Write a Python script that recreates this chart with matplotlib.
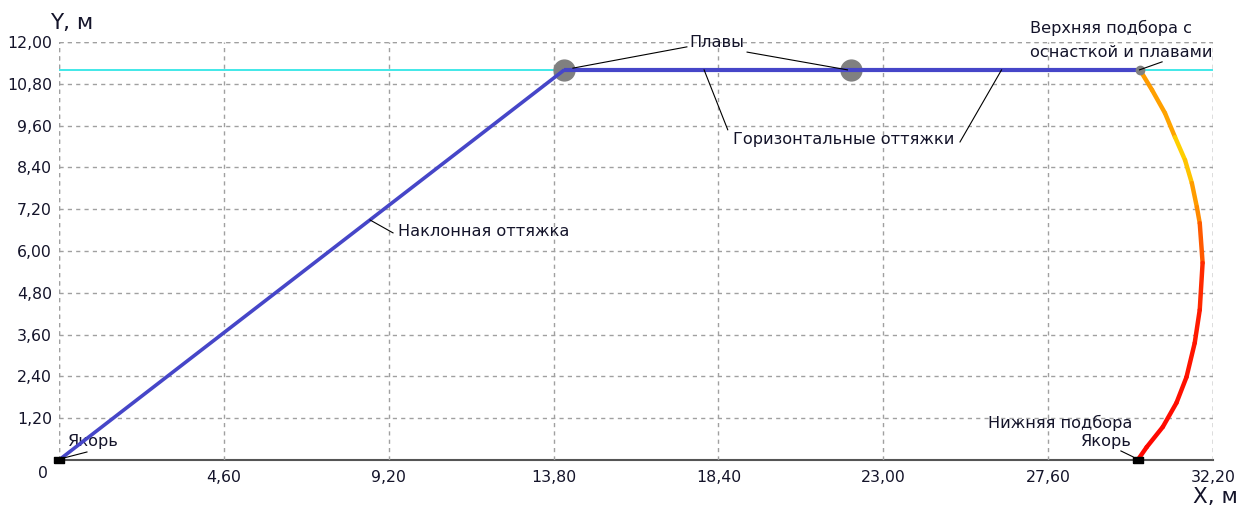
import matplotlib
matplotlib.use("Agg")
import matplotlib.pyplot as plt
from matplotlib.ticker import FixedLocator, FuncFormatter
from matplotlib.collections import LineCollection

# water surface level
surface_y = 11.2

# inclined guy: anchor -> first float
incl_x = [0.0, 14.1]
incl_y = [0.0, 11.2]

# horizontal guys: first float -> headline
horiz_x = [14.1, 22.1, 30.15]
horiz_y = [11.2, 11.2, 11.2]

# floats
float_x = [14.1, 22.1]
float_y = [11.2, 11.2]

# net wall from headline down to footrope anchor
net_x = [30.16, 30.50, 30.86, 31.14, 31.42, 31.61, 31.75, 31.83, 31.91,
         31.83, 31.69, 31.46, 31.18, 30.80, 30.35, 30.10]
net_y = [11.2, 10.62, 9.96, 9.27, 8.61, 7.95, 7.26, 6.80, 5.66,
         4.31, 3.36, 2.38, 1.64, 0.95, 0.37, 0.0]
net_colors = ["#ff9c00", "#ffa000", "#ffa400", "#ffcf00", "#ffc400",
              "#ff9c00", "#ff8a00", "#ff5a00", "#ff2a00", "#ff1a00",
              "#ff1400", "#ff1000", "#ff0c00", "#ff0800", "#ff0800"]

# anchors
anchor_x = [0.0, 30.1]
anchor_y = [0.0, 0.0]

x_ticks = [0, 4.6, 9.2, 13.8, 18.4, 23.0, 27.6, 32.2]
y_ticks = [1.2, 2.4, 3.6, 4.8, 6.0, 7.2, 8.4, 9.6, 10.8, 12.0]

plt.rcParams["font.family"] = ["DejaVu Sans"]
txt = "#14142a"
fs = 11.6
grid_kw = dict(linestyle=(0, (3, 3)), color="#a0a0a0", linewidth=1.0)

fig = plt.figure(figsize=(12.39, 5.08), dpi=100)
ax = fig.add_axes([59 / 1239, 48 / 508, 1154 / 1239, 418 / 508])
ax.set_xlim(0, 32.2)
ax.set_ylim(0, 12.0)

for s in ["top", "right", "left"]:
    ax.spines[s].set_visible(False)
ax.spines["bottom"].set_color("#555555")
ax.spines["bottom"].set_linewidth(1.5)
ax.spines["bottom"].set_zorder(1)

ax.xaxis.set_major_locator(FixedLocator(x_ticks))
ax.yaxis.set_major_locator(FixedLocator(y_ticks))
fmt = FuncFormatter(lambda v, p: "" if v == 0 else f"{v:.2f}".replace(".", ","))
ax.xaxis.set_major_formatter(fmt)
ax.yaxis.set_major_formatter(fmt)
ax.tick_params(length=0, labelsize=11.3, colors=txt)
ax.tick_params(axis="x", pad=7)
ax.tick_params(axis="y", pad=5)
ax.grid(True, **grid_kw)
ax.axvline(0.0, zorder=0.5, **grid_kw)
ax.axvline(32.2, zorder=0.5, **grid_kw)
ax.axhline(12.0, zorder=0.5, **grid_kw)

# origin label sits left of the axis
fig.text(43 / 1239, 1 - 474 / 508, "0", fontsize=11.3, color=txt, ha="center", va="center")
fig.text(50 / 1239, 1 - 23 / 508, "Y, м", fontsize=15.5, color=txt, va="center", ha="left")
fig.text(1193 / 1239, 1 - 497 / 508, "X, м", fontsize=15.5, color=txt, va="center", ha="left")

# surface
ax.axhline(surface_y, color="#33e6e6", linewidth=1.3, zorder=2)

# guys
ax.plot(incl_x, incl_y, color="#4646c8", linewidth=2.6, zorder=4, solid_capstyle="butt")
ax.plot(horiz_x, horiz_y, color="#4646c8", linewidth=3.0, zorder=4, solid_capstyle="butt")

# net wall coloured by segment
segs = [[(net_x[i], net_y[i]), (net_x[i + 1], net_y[i + 1])] for i in range(len(net_x) - 1)]
ax.add_collection(LineCollection(segs, colors=net_colors, linewidths=3.2, zorder=4,
                                 capstyle="round"))

# floats and headline joint
ax.plot(float_x, float_y, "o", color="#808080", markersize=15, zorder=3)
ax.plot([net_x[0]], [net_y[0]], "o", color="#808080", markersize=6, zorder=5)

# anchors (flat blocks)
block = [(-1, -0.5), (1, -0.5), (1, 0.5), (-1, 0.5), (-1, -0.5)]
ax.plot(anchor_x, anchor_y, marker=block, linestyle="none", color="black",
        markersize=7.5, zorder=6, clip_on=False)


def leader(x0, y0, x1, y1):
    ax.plot([x0, x1], [y0, y1], color="black", linewidth=0.8, zorder=5)


# labels with leader lines
leader(0.03, 0.03, 0.78, 0.23)
ax.text(0.25, 0.52, "Якорь", fontsize=fs, color=txt, ha="left", va="center")

leader(8.68, 6.89, 9.32, 6.52)
ax.text(9.45, 6.55, "Наклонная оттяжка", fontsize=fs, color=txt, ha="left", va="center")

leader(14.34, 11.25, 17.52, 11.86)
leader(19.2, 11.71, 22.0, 11.2)
ax.text(18.36, 11.99, "Плавы", fontsize=fs, color=txt, ha="center", va="center")

leader(18.0, 11.2, 18.66, 9.48)
leader(26.3, 11.2, 25.14, 9.13)
ax.text(21.9, 9.19, "Горизонтальные оттяжки", fontsize=fs, color=txt, ha="center", va="center")

leader(30.15, 11.2, 30.78, 11.43)
ax.text(27.09, 12.4, "Верхняя подбора с", fontsize=fs, color=txt, ha="left", va="center",
        clip_on=False)
ax.text(27.09, 11.71, "оснасткой и плавами", fontsize=fs, color=txt, ha="left", va="center")

leader(29.63, 0.26, 29.97, 0.09)
ax.text(29.94, 1.06, "Нижняя подбора", fontsize=fs, color=txt, ha="right", va="center")
ax.text(29.94, 0.52, "Якорь", fontsize=fs, color=txt, ha="right", va="center")

fig.savefig("out.png", dpi=100)
